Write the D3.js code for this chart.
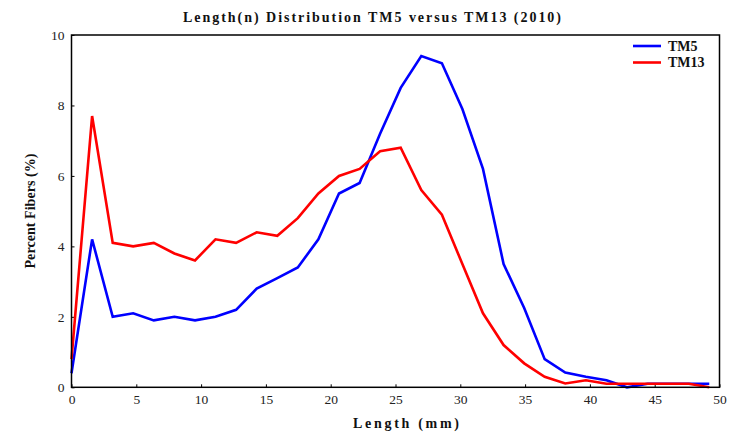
<!DOCTYPE html>
<html>
<head>
<meta charset="utf-8">
<script src="https://cdn.jsdelivr.net/npm/d3@7"></script>
<style>
  html, body { margin: 0; padding: 0; background: #fff; }
  svg { display: block; }
</style>
</head>
<body>
<svg id="chart" width="732" height="435"></svg>
<script>
// Fiber length classes (mm), 1/16-inch bins
const lengthMM = [0, 1.59, 3.18, 4.76, 6.35, 7.94, 9.53, 11.11, 12.7, 14.29, 15.88, 17.46,
  19.05, 20.64, 22.23, 23.81, 25.4, 26.99, 28.58, 30.16, 31.75, 33.34, 34.93, 36.51,
  38.1, 39.69, 41.28, 42.86, 44.45, 46.04, 47.63, 49.21];

// Percent of fibers in each length class
const tm5 = [0.4, 4.2, 2.0, 2.1, 1.9, 2.0, 1.9, 2.0, 2.2, 2.8, 3.1, 3.4,
  4.2, 5.5, 5.8, 7.2, 8.5, 9.4, 9.2, 7.9, 6.2, 3.5, 2.25, 0.8,
  0.42, 0.3, 0.2, 0.0, 0.1, 0.1, 0.1, 0.1];
const tm13 = [0.8, 7.7, 4.1, 4.0, 4.1, 3.8, 3.6, 4.2, 4.1, 4.4, 4.3, 4.8,
  5.5, 6.0, 6.2, 6.7, 6.8, 5.6, 4.9, 3.5, 2.1, 1.2, 0.68, 0.3,
  0.11, 0.2, 0.1, 0.1, 0.1, 0.1, 0.1, 0.0];

const seriesNames = ["TM5", "TM13"];
const seriesColors = ["#0000ff", "#ff0000"];
const xTicks = [0, 5, 10, 15, 20, 25, 30, 35, 40, 45, 50];
const yTicks = [0, 2, 4, 6, 8, 10];

const FONT = '"Liberation Serif", "Times New Roman", serif';

const svg = d3.select("#chart");
const plotLeft = 71.5, plotRight = 719.5, plotTop = 35, plotBottom = 387.3;

const x = d3.scaleLinear().domain([0, 50]).range([plotLeft, plotRight]);
const y = d3.scaleLinear().domain([0, 10]).range([plotBottom, plotTop]);

// Axes with short inward ticks
const xAxis = d3.axisBottom(x).tickValues(xTicks).tickSizeInner(-3).tickSizeOuter(0).tickPadding(7);
const yAxis = d3.axisLeft(y).tickValues(yTicks).tickSizeInner(-3).tickSizeOuter(0).tickPadding(7);

const gx = svg.append("g").attr("transform", `translate(0,${plotBottom})`).call(xAxis);
const gy = svg.append("g").attr("transform", `translate(${plotLeft},0)`).call(yAxis);
[gx, gy].forEach(g => {
  g.select(".domain").remove();
  g.selectAll(".tick line").attr("stroke", "#000").attr("stroke-width", 1);
  g.selectAll(".tick text")
    .attr("fill", "#222")
    .style("font-family", FONT)
    .style("font-size", "13.5px");
});

// Series lines
const line = d3.line().x((d, i) => x(lengthMM[i])).y(d => y(d));
[tm5, tm13].forEach((vals, k) => {
  svg.append("path")
    .datum(vals)
    .attr("fill", "none")
    .attr("stroke", seriesColors[k])
    .attr("stroke-width", 2.6)
    .attr("stroke-linejoin", "miter")
    .attr("d", line);
});

// Plot frame
svg.append("rect")
  .attr("x", plotLeft).attr("y", plotTop)
  .attr("width", plotRight - plotLeft).attr("height", plotBottom - plotTop)
  .attr("fill", "none").attr("stroke", "#000").attr("stroke-width", 1.5);

// Legend
seriesNames.forEach((name, k) => {
  const ly = 46 + k * 16.5;
  svg.append("line")
    .attr("x1", 633).attr("x2", 661).attr("y1", ly).attr("y2", ly)
    .attr("stroke", seriesColors[k]).attr("stroke-width", 2.6);
  svg.append("text")
    .attr("x", 668).attr("y", ly + 4.5)
    .style("font-family", FONT).style("font-weight", "bold").style("font-size", "14px")
    .attr("fill", "#111")
    .text(name);
});

// Title and axis labels
svg.append("text")
  .attr("x", 372).attr("y", 22).attr("text-anchor", "middle")
  .style("font-family", FONT).style("font-weight", "bold").style("font-size", "14px")
  .attr("textLength", 378).attr("lengthAdjust", "spacing")
  .attr("fill", "#111")
  .text("Length(n) Distribution TM5 versus TM13 (2010)");

svg.append("text")
  .attr("x", 406).attr("y", 428).attr("text-anchor", "middle")
  .style("font-family", FONT).style("font-weight", "bold").style("font-size", "14px")
  .attr("textLength", 106).attr("lengthAdjust", "spacing")
  .attr("fill", "#111")
  .text("Length (mm)");

svg.append("text")
  .attr("transform", "translate(35,211) rotate(-90)")
  .attr("text-anchor", "middle")
  .style("font-family", FONT).style("font-weight", "bold").style("font-size", "14px")
  .attr("textLength", 115).attr("lengthAdjust", "spacing")
  .attr("fill", "#111")
  .text("Percent Fibers (%)");
</script>
</body>
</html>
